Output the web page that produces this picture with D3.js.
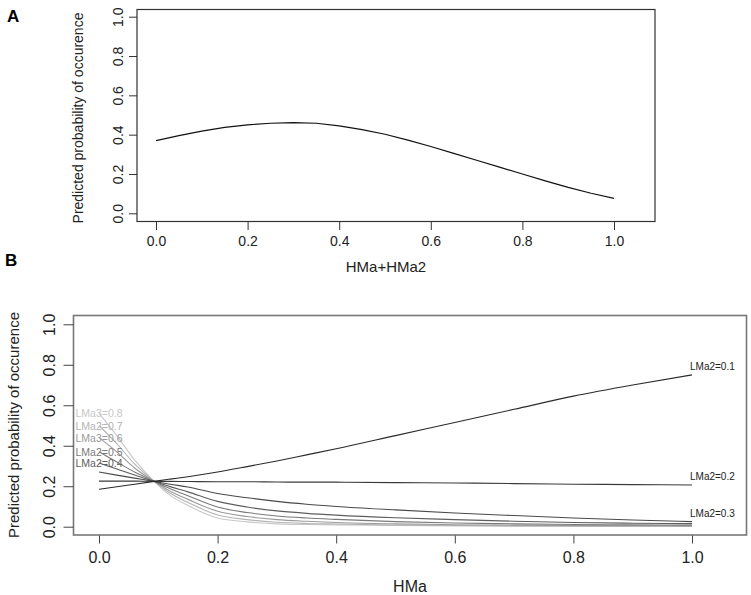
<!DOCTYPE html>
<html>
<head>
<meta charset="utf-8">
<script src="https://cdn.jsdelivr.net/npm/d3@7"></script>
<style>
  body { margin: 0; background: #fff; }
  text { font-family: "Liberation Sans", Arial, sans-serif; }
</style>
</head>
<body>
<div id="chart"></div>
<script>
// Panel A: predicted probability vs HMa+HMa2
const xA = [0, 0.05, 0.1, 0.15, 0.2, 0.25, 0.3, 0.35, 0.4, 0.45, 0.5, 0.55, 0.6, 0.65, 0.7, 0.75, 0.8, 0.85, 0.9, 0.95, 1.0];
const yA = [0.37, 0.395, 0.418, 0.437, 0.45, 0.458, 0.461, 0.458, 0.445, 0.426, 0.402, 0.372, 0.34, 0.305, 0.27, 0.235, 0.2, 0.165, 0.132, 0.102, 0.076];

// Panel B: predicted probability vs HMa, one line per LMa2 level
const xB = [0, 0.03, 0.06, 0.093, 0.12, 0.15, 0.2, 0.25, 0.3, 0.35, 0.4, 0.5, 0.6, 0.7, 0.8, 0.9, 1.0];
const lma01 = [0.185, 0.197, 0.21, 0.224, 0.235, 0.247, 0.27, 0.297, 0.325, 0.355, 0.385, 0.45, 0.515, 0.58, 0.645, 0.70, 0.75];
const lma02 = [0.225, 0.225, 0.225, 0.224, 0.224, 0.223, 0.222, 0.222, 0.221, 0.22, 0.22, 0.218, 0.216, 0.213, 0.21, 0.208, 0.206];
const lma03 = [0.27, 0.255, 0.24, 0.224, 0.21, 0.196, 0.164, 0.143, 0.125, 0.111, 0.10, 0.083, 0.068, 0.055, 0.043, 0.033, 0.025];
const lma04 = [0.315, 0.285, 0.255, 0.224, 0.198, 0.172, 0.125, 0.097, 0.078, 0.066, 0.057, 0.044, 0.035, 0.027, 0.021, 0.017, 0.015];
const lma05 = [0.37, 0.32, 0.27, 0.224, 0.188, 0.153, 0.097, 0.07, 0.053, 0.043, 0.036, 0.025, 0.018, 0.014, 0.011, 0.009, 0.008];
const lma06 = [0.44, 0.37, 0.29, 0.224, 0.175, 0.135, 0.076, 0.05, 0.035, 0.027, 0.021, 0.014, 0.01, 0.008, 0.006, 0.005, 0.004];
const lma07 = [0.50, 0.41, 0.31, 0.224, 0.165, 0.12, 0.058, 0.035, 0.022, 0.016, 0.013, 0.008, 0.006, 0.004, 0.003, 0.003, 0.003];
const lma08 = [0.56, 0.45, 0.33, 0.224, 0.155, 0.105, 0.043, 0.024, 0.014, 0.011, 0.009, 0.006, 0.004, 0.003, 0.002, 0.002, 0.002];

const seriesB = [lma01, lma02, lma03, lma04, lma05, lma06, lma07, lma08];
const seriesNames = ["LMa2=0.1", "LMa2=0.2", "LMa2=0.3", "LMa2=0.4", "LMa2=0.5", "LMa3=0.6", "LMa2=0.7", "LMa3=0.8"];
const seriesColors = ["#2a2a2a", "#3a3a3a", "#4a4a4a", "#5e5e5e", "#7a7a7a", "#9a9a9a", "#b4b4b4", "#c8c8c8"];
const ticks = [0, 0.2, 0.4, 0.6, 0.8, 1.0];

const svg = d3.select("#chart").append("svg")
  .attr("width", 751).attr("height", 595);

// ---- Panel A ----
const xa = d3.scaleLinear().domain([0, 1]).range([156, 614]);
const ya = d3.scaleLinear().domain([0, 1]).range([213.3, 16.7]);

svg.append("text").text("A").attr("x", 7).attr("y", 22)
  .attr("font-size", 17).attr("font-weight", "bold");

svg.append("rect").attr("x", 137).attr("y", 9.5).attr("width", 518).attr("height", 212)
  .attr("fill", "none").attr("stroke", "#333").attr("stroke-width", 1.2);

const axA = svg.append("g").attr("transform", "translate(0,222)")
  .call(d3.axisBottom(xa).tickValues(ticks).tickFormat(d3.format(".1f")).tickSize(8).tickPadding(6));
const ayA = svg.append("g").attr("transform", "translate(137,0)")
  .call(d3.axisLeft(ya).tickValues(ticks).tickFormat(d3.format(".1f")).tickSize(8).tickPadding(4));
[axA, ayA].forEach(g => {
  g.select(".domain").remove();
  g.selectAll(".tick line").attr("stroke", "#333");
  g.selectAll(".tick text").attr("font-size", 14).attr("fill", "#222")
    .attr("font-family", "'Liberation Sans Narrow', 'Liberation Sans', Arial, sans-serif");
});
ayA.selectAll(".tick text")
  .attr("text-anchor", "middle").attr("x", null).attr("dy", null)
  .attr("transform", "translate(-19,0) rotate(-90)").attr("y", 0).attr("dy", "0.35em");

svg.append("path")
  .datum(xA.map((x, i) => [x, yA[i]]))
  .attr("d", d3.line().x(d => xa(d[0])).y(d => ya(d[1])))
  .attr("fill", "none").attr("stroke", "#111").attr("stroke-width", 1.2);

svg.append("text").text("HMa+HMa2").attr("x", 386).attr("y", 272)
  .attr("text-anchor", "middle").attr("font-size", 15).attr("fill", "#222")
  .attr("font-family", "'Liberation Sans Narrow', 'Liberation Sans', Arial, sans-serif");
svg.append("text").text("Predicted probability of occurence")
  .attr("transform", "translate(83,118) rotate(-90)")
  .attr("text-anchor", "middle").attr("font-size", 14).attr("fill", "#222");

// ---- Panel B ----
const xb = d3.scaleLinear().domain([0, 1]).range([99, 692]);
const yb = d3.scaleLinear().domain([0, 1]).range([526.7, 324.3]);

svg.append("text").text("B").attr("x", 5).attr("y", 266)
  .attr("font-size", 17).attr("font-weight", "bold");

svg.append("rect").attr("x", 73.5).attr("y", 315.5).attr("width", 673).attr("height", 219.5)
  .attr("fill", "none").attr("stroke", "#777").attr("stroke-width", 1.6);

const axB = svg.append("g").attr("transform", "translate(0,535.5)")
  .call(d3.axisBottom(xb).tickValues(ticks).tickFormat(d3.format(".1f")).tickSize(8).tickPadding(8));
const ayB = svg.append("g").attr("transform", "translate(73.5,0)")
  .call(d3.axisLeft(yb).tickValues(ticks).tickFormat(d3.format(".1f")).tickSize(10).tickPadding(4));
[axB, ayB].forEach(g => {
  g.select(".domain").remove();
  g.selectAll(".tick line").attr("stroke", "#444");
  g.selectAll(".tick text").attr("font-size", 16).attr("fill", "#222");
});
ayB.selectAll(".tick text")
  .attr("text-anchor", "middle").attr("x", null).attr("dy", null)
  .attr("transform", "translate(-24,0) rotate(-90)").attr("y", 0).attr("dy", "0.35em");

const lineB = d3.line().x(d => xb(d[0])).y(d => yb(d[1])).curve(d3.curveMonotoneX);
// draw light lines first so dark ones sit on top
seriesB.map((s, i) => ({ s, i })).reverse().forEach(({ s, i }) => {
  svg.append("path")
    .datum(xB.map((x, j) => [x, s[j]]))
    .attr("d", lineB)
    .attr("fill", "none").attr("stroke", seriesColors[i]).attr("stroke-width", 1.1);
});

// right labels for first three series, left labels for the rest
seriesB.forEach((s, i) => {
  if (i < 3) {
    svg.append("text").text(seriesNames[i])
      .attr("x", xb(1) - 2).attr("y", yb(s[s.length - 1]) - 5)
      .attr("font-size", 10).attr("fill", "#222");
  } else {
    svg.append("text").text(seriesNames[i])
      .attr("x", xb(0)).attr("y", yb(s[0]) + 4)
      .attr("text-anchor", "middle")
      .attr("font-size", 10.5).attr("fill", seriesColors[i]);
  }
});

svg.append("text").text("HMa").attr("x", 410).attr("y", 592)
  .attr("text-anchor", "middle").attr("font-size", 16).attr("fill", "#222");
svg.append("text").text("Predicted probability of occurence")
  .attr("transform", "translate(19,425) rotate(-90)")
  .attr("text-anchor", "middle").attr("font-size", 15).attr("fill", "#222");
</script>
</body>
</html>
